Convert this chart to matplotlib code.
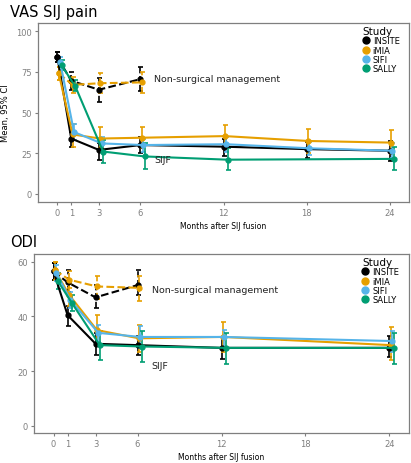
import matplotlib
matplotlib.use("Agg")
import matplotlib.pyplot as plt
from matplotlib.lines import Line2D
import numpy as np

# study colours (Okabe-Ito)
studies = ["INSITE", "iMIA", "SIFI", "SALLY"]
colors = {"INSITE": "#000000", "iMIA": "#E69F00", "SIFI": "#56B4E9", "SALLY": "#009E73"}
dodge = {"INSITE": 0.0, "iMIA": 0.1, "SIFI": 0.2, "SALLY": 0.3}

# ---- VAS SIJ pain, SIJ fusion arms ----
vas_months = {
    "INSITE": [0, 1, 3, 6, 12, 18, 24],
    "iMIA": [0, 1, 3, 6, 12, 18, 24],
    "SIFI": [0, 1, 3, 6, 12, 18, 24],
    "SALLY": [0, 1, 3, 6, 12, 24],
}
vas_mean = {
    "INSITE": [84, 34, 27, 30, 29, 27.5, 26.5],
    "iMIA": [74, 36.5, 34, 34.5, 35.5, 32.5, 31.5],
    "SIFI": [81, 38, 31, 30, 30.5, 28, 26.5],
    "SALLY": [79, 66, 26, 23, 21, 21.5],
}
vas_lo = {
    "INSITE": [81, 29, 21, 25, 23, 22, 20.5],
    "iMIA": [70, 29, 28, 28, 28.5, 25, 24.5],
    "SIFI": [78, 33, 27, 26, 26, 24, 22],
    "SALLY": [76, 63, 19, 15, 14.5, 14.5],
}
vas_hi = {
    "INSITE": [87, 38, 31, 35, 34, 32, 32.5],
    "iMIA": [78, 43, 41, 41, 42.5, 40, 39.5],
    "SIFI": [84, 43, 35, 34, 35, 32, 31],
    "SALLY": [82, 70, 33, 31, 28, 28.5],
}
# ---- VAS, non-surgical management arms ----
ns_months = [0, 1, 3, 6]
vas_ns_mean = {"INSITE": [84, 69.5, 64, 70.5], "iMIA": [74, 67, 68, 68.5]}
vas_ns_lo = {"INSITE": [81, 64, 56.5, 63], "iMIA": [70, 62, 62, 62]}
vas_ns_hi = {"INSITE": [87, 75, 71, 78], "iMIA": [78, 72, 74, 75]}

# ---- ODI, SIJ fusion arms ----
odi_months = [0, 1, 3, 6, 12, 24]
odi_mean = {
    "INSITE": [56.5, 40.5, 30, 29.5, 28.5, 28.5],
    "iMIA": [57, 48, 35, 32, 32.5, 29.5],
    "SIFI": [56, 46, 34, 32.5, 32.5, 31],
    "SALLY": [53, 45, 29.5, 29, 28.5, 28.5],
}
odi_lo = {
    "INSITE": [53.5, 36.5, 26, 26, 24.5, 25],
    "iMIA": [53.5, 44, 30, 27, 27, 24],
    "SIFI": [53, 43, 30.5, 28.5, 28.5, 27],
    "SALLY": [50, 42, 24, 23.5, 22.5, 22.5],
}
odi_hi = {
    "INSITE": [59.5, 44, 34, 33, 32.5, 33],
    "iMIA": [60, 52, 40.5, 37, 38, 36],
    "SIFI": [59, 49, 37, 36.5, 35, 34.5],
    "SALLY": [56, 48, 34.5, 34.5, 34, 34],
}
# ---- ODI, non-surgical management arms ----
odi_ns_mean = {"INSITE": [56.5, 52.5, 47, 51.5], "iMIA": [57, 53.5, 51, 50.5]}
odi_ns_lo = {"INSITE": [53.5, 49, 43, 48], "iMIA": [53.5, 50.5, 46.5, 45.5]}
odi_ns_hi = {"INSITE": [59.5, 57, 51.5, 57], "iMIA": [60, 56.5, 55, 55]}

x_ticks = [0, 1, 3, 6, 12, 18, 24]
GREY = "#7f7f7f"


def draw_series(ax, x, mean, lo, hi, study, ls):
    x = np.asarray(x, dtype=float) + dodge[study]
    mean = np.asarray(mean)
    err = [mean - np.asarray(lo), np.asarray(hi) - mean]
    _, caps, bars = ax.errorbar(
        x, mean, yerr=err, color=colors[study], ls=ls, lw=1.5,
        marker="o", ms=3.5, elinewidth=1.2, capsize=1.8, capthick=1.2,
    )
    for b in bars:
        b.set_linestyle(ls)


def style_axes(ax, ylim, yticks):
    ax.set_xlim(-1.4, 25.4)
    ax.set_ylim(*ylim)
    ax.set_xticks(x_ticks)
    ax.set_yticks(yticks)
    ax.tick_params(colors=GREY, labelcolor=GREY, labelsize=6, length=2.5, width=0.8, pad=2)
    for s in ax.spines.values():
        s.set_color(GREY)
        s.set_linewidth(0.9)
    handles = [Line2D([], [], ls="none", marker="o", ms=5, color=colors[s]) for s in studies]
    ax.legend(handles, studies, title="Study", loc="upper left",
              bbox_to_anchor=(0.875, 0.985), frameon=False, fontsize=6,
              title_fontsize=7.5, handlelength=0.8, handletextpad=0.4,
              labelspacing=0.05, borderpad=0, borderaxespad=0,
              alignment="left")


fig = plt.figure(figsize=(4.11, 4.64), dpi=100)

# top panel: VAS
ax1 = fig.add_axes([38 / 411, (464 - 203) / 464, 371 / 411, 179 / 464])
for s in ["INSITE", "iMIA"]:
    draw_series(ax1, ns_months, vas_ns_mean[s], vas_ns_lo[s], vas_ns_hi[s], s, "--")
for s in studies:
    draw_series(ax1, vas_months[s], vas_mean[s], vas_lo[s], vas_hi[s], s, "-")
style_axes(ax1, (-5, 105), [0, 25, 50, 75, 100])
ax1.text(7.0, 71, "Non-surgical management", fontsize=6.8, color="#222222", va="center")
ax1.text(7.0, 21, "SIJF", fontsize=6.8, color="#222222", va="center")
ax1.set_ylabel("Mean, 95% CI", fontsize=6, labelpad=4)
ax1.set_xlabel("Months after SIJ fusion", fontsize=5.5, labelpad=3)

# bottom panel: ODI
ax2 = fig.add_axes([34 / 411, (464 - 434) / 464, 375 / 411, 179 / 464])
for s in ["INSITE", "iMIA"]:
    draw_series(ax2, ns_months, odi_ns_mean[s], odi_ns_lo[s], odi_ns_hi[s], s, "--")
for s in studies:
    draw_series(ax2, odi_months, odi_mean[s], odi_lo[s], odi_hi[s], s, "-")
style_axes(ax2, (-2.7, 62.9), [0, 20, 40, 60])
ax2.text(7.0, 50, "Non-surgical management", fontsize=6.8, color="#222222", va="center")
ax2.text(7.0, 22, "SIJF", fontsize=6.8, color="#222222", va="center")
ax2.set_xlabel("Months after SIJ fusion", fontsize=5.5, labelpad=3)

fig.text(10 / 411, 1 - 12 / 464, "VAS SIJ pain", fontsize=10.5, va="center")
fig.text(10 / 411, 1 - 243 / 464, "ODI", fontsize=10.5, va="center")

fig.savefig("out.png", dpi=100)
